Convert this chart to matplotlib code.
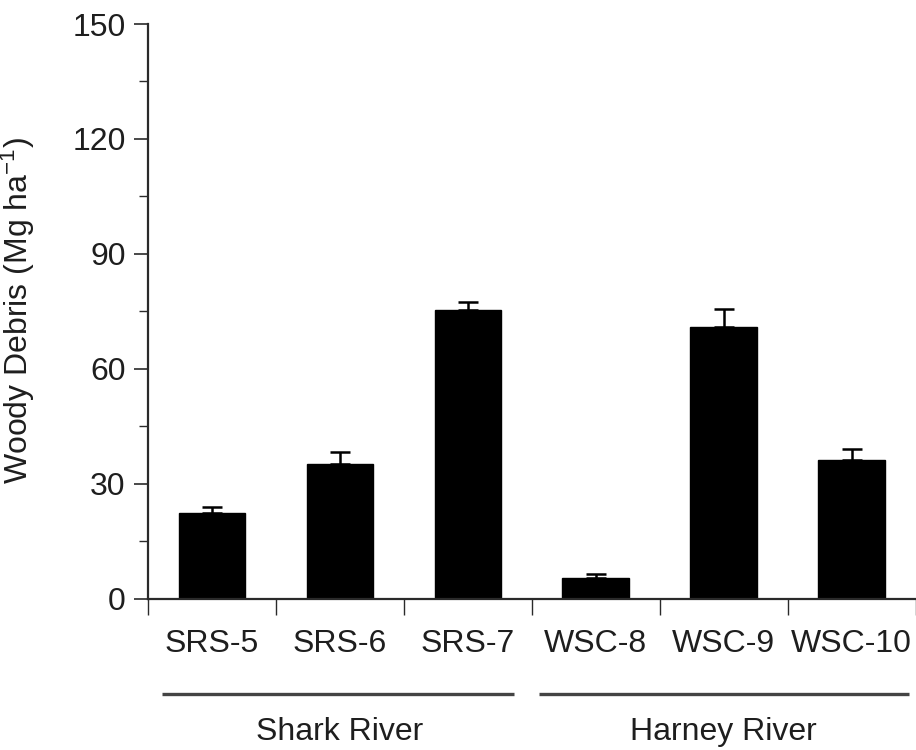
import numpy as np
import matplotlib
matplotlib.use("Agg")
import matplotlib.pyplot as plt
import matplotlib.transforms as mtransforms

# data
sites = ['SRS-5', 'SRS-6', 'SRS-7', 'WSC-8', 'WSC-9', 'WSC-10']
debris = [22.4, 35.2, 75.3, 5.4, 70.8, 36.2]
debris_se = [1.6, 3.0, 2.2, 1.0, 4.8, 2.8]
rivers = ['Shark River', 'Harney River']
river_span = [(-0.39, 2.36), (2.56, 5.45)]
river_center = [1, 4]

plt.rcParams['font.family'] = ['Liberation Sans', 'DejaVu Sans']
plt.rcParams['mathtext.default'] = 'regular'

txt = '#1e1e1e'
axc = '#2a2a2a'
fs = 23

fig = plt.figure(figsize=(9.16, 7.5), dpi=100)
ax = fig.add_axes([148/916, 1 - 598.5/750, (915.5 - 148)/916, (598.5 - 24)/750])

x = np.arange(len(sites))
ax.bar(x, debris, width=0.52, color='black', edgecolor='black', zorder=2)
ax.errorbar(x, debris, yerr=[np.zeros(len(debris_se)), debris_se], fmt='none',
            ecolor='black', elinewidth=1.8, capsize=7.5, capthick=1.8, zorder=1)

ax.set_xlim(-0.5, 5.5)
ax.set_ylim(0, 150)
ax.set_yticks(np.arange(0, 151, 30))
ax.set_yticks(np.arange(15, 151, 30), minor=True)
ax.tick_params(axis='y', which='major', length=10, width=1.2, colors=axc,
               labelcolor=txt, labelsize=fs, pad=6)
ax.tick_params(axis='y', which='minor', length=6.5, width=1.0, colors=axc)

# category boundaries as major ticks, names as minor ticks
ax.set_xticks(np.arange(-0.5, 5.6, 1))
ax.set_xticklabels([])
ax.set_xticks(x, minor=True)
ax.set_xticklabels(sites, minor=True)
ax.tick_params(axis='x', which='major', length=11.5, width=1.0, colors=axc)
ax.tick_params(axis='x', which='minor', length=0, labelcolor=txt, labelsize=fs, pad=22)

for s in ['top', 'right']:
    ax.spines[s].set_visible(False)
for s in ['left', 'bottom']:
    ax.spines[s].set_color(axc)
    ax.spines[s].set_linewidth(1.6)

ax.set_ylabel('Woody Debris (Mg ha$^{-1}$)', fontsize=fs, color=txt)
ax.yaxis.set_label_coords(37/916, 1 - 311/750, transform=fig.transFigure)

# river groupings below the axis
trans = mtransforms.blended_transform_factory(ax.transData, fig.transFigure)
for name, (a, b), c in zip(rivers, river_span, river_center):
    ax.plot([a, b], [1 - 694/750] * 2, transform=trans, color='#444444',
            lw=2.4, clip_on=False, solid_capstyle='butt')
    ax.text(c, 1 - 732/750, name, transform=trans, ha='center', va='center',
            fontsize=fs, color=txt)

fig.savefig('out.png', dpi=100)
